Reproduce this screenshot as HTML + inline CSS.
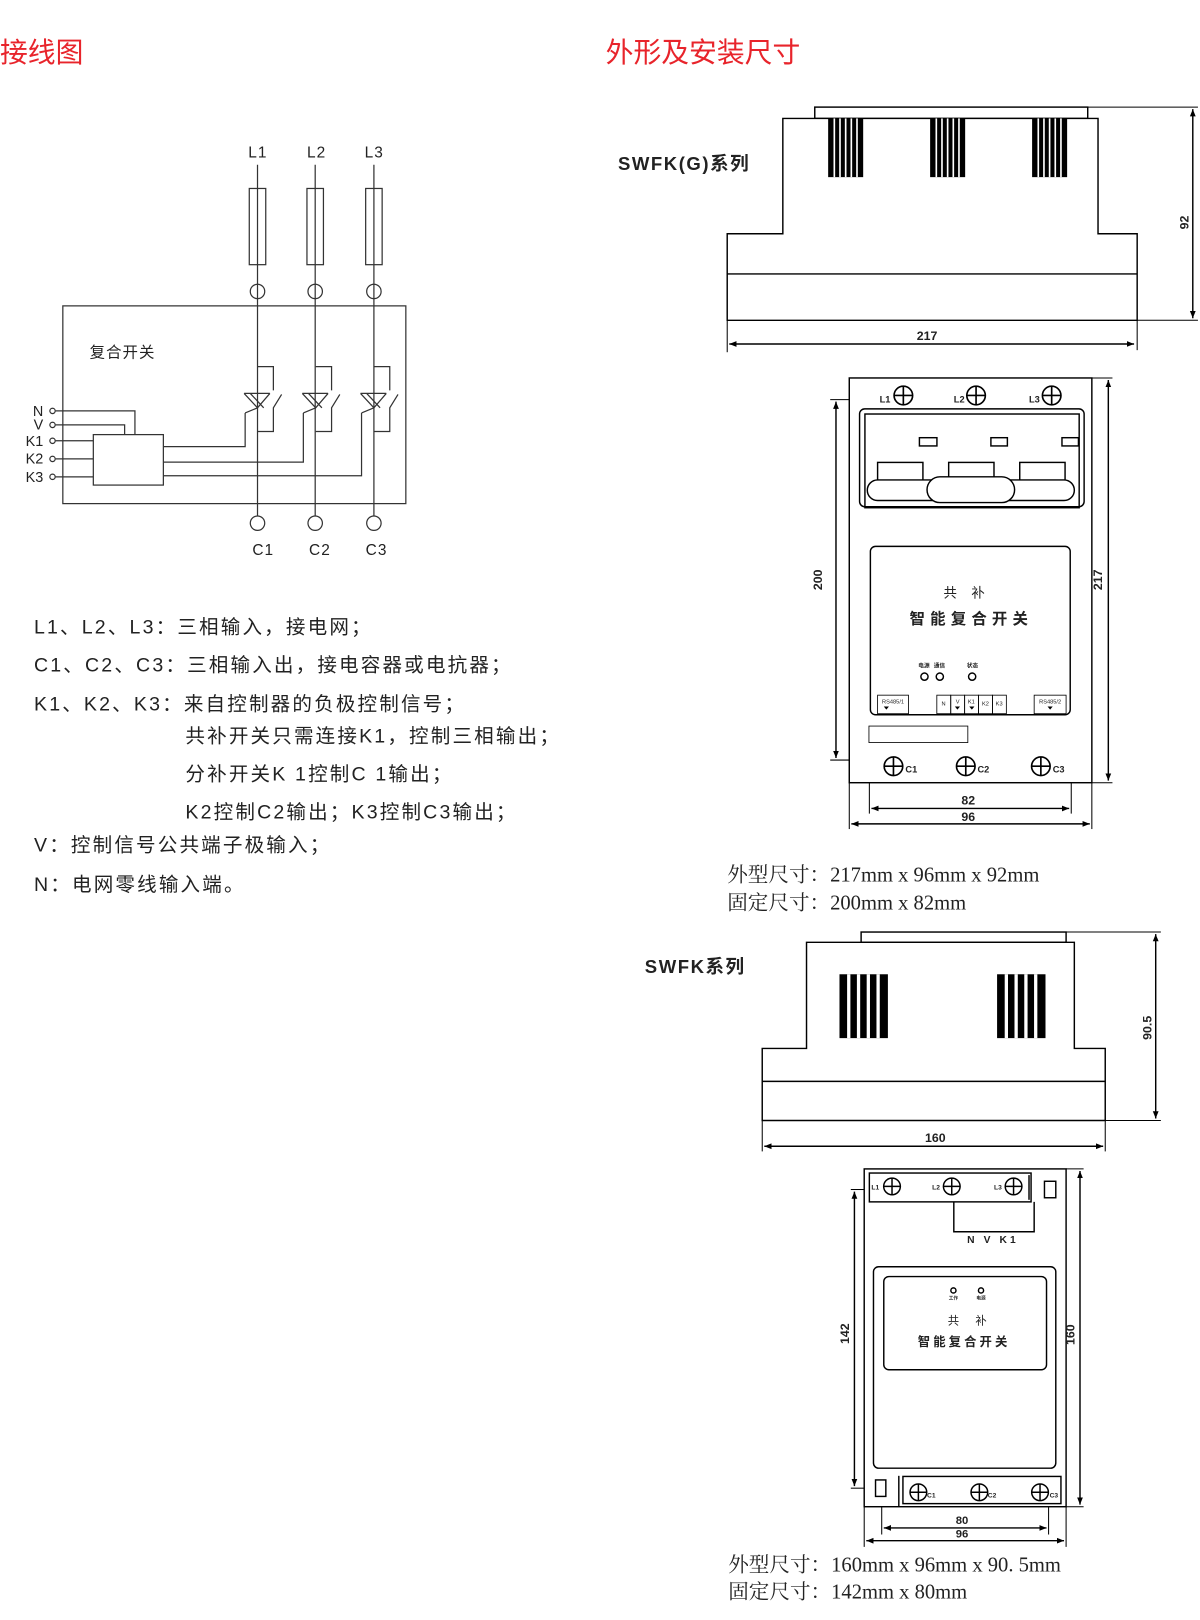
<!DOCTYPE html>
<html><head><meta charset="utf-8">
<style>
html,body{margin:0;padding:0;background:#fff;}
svg{display:block;}
text{font-family:"Liberation Sans","Noto Sans CJK SC",sans-serif;fill:#222;}
.s text{font-family:"Liberation Serif","Noto Serif CJK SC",serif;}
.b{font-weight:bold;}
</style></head><body>
<svg width="1200" height="1620" viewBox="0 0 1165 1573" preserveAspectRatio="none" xmlns="http://www.w3.org/2000/svg">
<defs>
<marker id="a" viewBox="0 0 10 10" refX="10" refY="5" markerWidth="7" markerHeight="7" orient="auto-start-reverse" markerUnits="userSpaceOnUse"><path d="M0,1 L10,5 L0,9 z" fill="#000"/></marker>
<g id="tr">
 <polyline points="250,356 265.4,356 265.4,379" fill="none"/>
 <polyline points="273.4,383 265.4,396 265.4,419 250,419" fill="none"/>
 <polyline points="237,382 250,396 262,382" fill="none"/>
 <line x1="243" y1="382" x2="256" y2="396"/>
 <line x1="237" y1="382" x2="262" y2="382"/>
 <polyline points="250,396 238,401" fill="none"/>
</g>
<g id="scr"><circle r="9" fill="#fff" stroke="#000" stroke-width="1.6"/><line x1="-9" y1="0" x2="9" y2="0" stroke="#000" stroke-width="1.6"/><line x1="0" y1="-9" x2="0" y2="9" stroke="#000" stroke-width="1.6"/></g>
<g id="fin"><rect x="0" y="0" width="34" height="57" fill="#000"/><g stroke="#fff" stroke-width="1.6"><line x1="6" y1="0" x2="6" y2="57"/><line x1="11.5" y1="0" x2="11.5" y2="57"/><line x1="17" y1="0" x2="17" y2="57"/><line x1="22.5" y1="0" x2="22.5" y2="57"/><line x1="28" y1="0" x2="28" y2="57"/></g></g>
<g id="fin2"><rect x="0" y="0" width="47" height="62" fill="#000"/><g stroke="#fff" stroke-width="3.2"><line x1="9" y1="0" x2="9" y2="62"/><line x1="18.5" y1="0" x2="18.5" y2="62"/><line x1="28" y1="0" x2="28" y2="62"/><line x1="37.5" y1="0" x2="37.5" y2="62"/></g></g>
</defs>

<text x="0" y="60" font-size="27" style="fill:#e8242b">接线图</text>
<text x="588" y="60" font-size="27" style="fill:#e8242b">外形及安装尺寸</text>

<g stroke="#333" stroke-width="1.2" fill="none">
 <line x1="250" y1="160" x2="250" y2="501"/>
 <line x1="306" y1="160" x2="306" y2="501"/>
 <line x1="363" y1="160" x2="363" y2="501"/>
 <rect x="242" y="183" width="16" height="74" fill="#fff"/>
 <rect x="298" y="183" width="16" height="74" fill="#fff"/>
 <rect x="355" y="183" width="16" height="74" fill="#fff"/>
 <line x1="250" y1="183" x2="250" y2="257"/><line x1="306" y1="183" x2="306" y2="257"/><line x1="363" y1="183" x2="363" y2="257"/>
 <circle cx="250" cy="283" r="7"/><circle cx="306" cy="283" r="7"/><circle cx="363" cy="283" r="7"/>
 <rect x="61" y="297" width="333" height="192"/>
 <circle cx="250" cy="508" r="7"/><circle cx="306" cy="508" r="7"/><circle cx="363" cy="508" r="7"/>
 <use href="#tr"/>
 <use href="#tr" transform="translate(56.5,0)"/>
 <use href="#tr" transform="translate(113,0)"/>
 <rect x="90.6" y="422" width="68" height="49"/>
 <circle cx="51" cy="399" r="2.6"/><circle cx="51" cy="412.6" r="2.6"/><circle cx="51" cy="428" r="2.6"/><circle cx="51" cy="445.6" r="2.6"/><circle cx="51" cy="463" r="2.6"/>
 <polyline points="54,399 131,399 131,422"/>
 <polyline points="54,412.6 121,412.6 121,422"/>
 <line x1="54" y1="428" x2="90.6" y2="428"/>
 <line x1="54" y1="445.6" x2="90.6" y2="445.6"/>
 <line x1="54" y1="463" x2="90.6" y2="463"/>
 <polyline points="158.6,433.7 238,433.7 238,401"/>
 <polyline points="158.6,448.7 294.5,448.7 294.5,401"/>
 <polyline points="158.6,462 351,462 351,401"/>
</g>
<g font-size="15">
 <text x="241" y="153" letter-spacing="1">L1</text><text x="298" y="153" letter-spacing="1">L2</text><text x="354" y="153" letter-spacing="1">L3</text>
 <text x="245" y="539" letter-spacing="1">C1</text><text x="300" y="539" letter-spacing="1">C2</text><text x="355" y="539" letter-spacing="1">C3</text>
 <text x="87" y="347" letter-spacing="1">复合开关</text>
</g>
<g font-size="14" text-anchor="end">
 <text x="42" y="404">N</text><text x="42" y="417">V</text><text x="42" y="433">K1</text><text x="42" y="450">K2</text><text x="42" y="468">K3</text>
</g>

<g font-size="19" style="fill:#333" letter-spacing="2.1">
 <text x="33" y="615">L1、L2、L3：三相输入，接电网；</text>
 <text x="33" y="652">C1、C2、C3：三相输入出，接电容器或电抗器；</text>
 <text x="33" y="690">K1、K2、K3：来自控制器的负极控制信号；</text>
 <text x="180" y="721">共补开关只需连接K1，控制三相输出；</text>
 <text x="180" y="758">分补开关K 1控制C 1输出；</text>
 <text x="180" y="795">K2控制C2输出；K3控制C3输出；</text>
 <text x="33" y="827">V：控制信号公共端子极输入；</text>
 <text x="33" y="865">N：电网零线输入端。</text>
</g>

<text x="600" y="165" font-size="18" class="b" letter-spacing="1.5">SWFK(G)系列</text>
<g stroke="#000" stroke-width="1.4" fill="none">
 <rect x="791" y="104" width="265" height="11"/>
 <polygon points="760,115 1066,115 1066,227 1104,227 1104,311 706,311 706,227 760,227" fill="#fff"/>
 <line x1="706" y1="266" x2="1104" y2="266"/>
 <line x1="1056" y1="104" x2="1163" y2="104" stroke-width="1"/>
 <line x1="1104" y1="311" x2="1163" y2="311" stroke-width="1"/>
 <line x1="1158" y1="106" x2="1158" y2="309" marker-start="url(#a)" marker-end="url(#a)"/>
 <line x1="706" y1="311" x2="706" y2="342" stroke-width="1"/>
 <line x1="1104" y1="311" x2="1104" y2="340" stroke-width="1"/>
 <line x1="708" y1="334" x2="1101" y2="334" marker-start="url(#a)" marker-end="url(#a)"/>
</g>
<use href="#fin" x="804" y="115"/><use href="#fin" x="903" y="115"/><use href="#fin" x="1002" y="115"/>
<text x="900" y="330" font-size="12" class="b" text-anchor="middle">217</text>
<text transform="translate(1154,216) rotate(-90)" font-size="12" class="b" text-anchor="middle">92</text>

<g stroke="#000" stroke-width="1.4" fill="none">
 <rect x="824.5" y="367" width="235.5" height="393"/>
 <rect x="834.5" y="397" width="218" height="95" rx="5"/>
 <rect x="839.7" y="402" width="208" height="91"/>
 <rect x="892.6" y="425" width="17" height="8"/>
 <rect x="962" y="425" width="16" height="8"/>
 <rect x="1031" y="425" width="16" height="8"/>
 <rect x="852" y="449" width="44" height="18"/>
 <rect x="921" y="449" width="44" height="15"/>
 <rect x="990" y="449" width="44" height="18"/>
 <rect x="842" y="466" width="201" height="20" rx="10" fill="#fff"/>
 <rect x="900" y="463" width="85" height="25" rx="12.5" fill="#fff"/>
 <rect x="845" y="530.5" width="194" height="163.5" rx="5"/>
 <circle cx="897.5" cy="657" r="3.5"/><circle cx="912.4" cy="657" r="3.5"/><circle cx="943.8" cy="657" r="3.5"/>
 <g stroke-width="0.8"><rect x="852" y="675" width="30" height="18"/><rect x="909.5" y="675" width="13.5" height="18"/><rect x="923" y="675" width="13.5" height="18"/><rect x="936.5" y="675" width="13.5" height="18"/><rect x="950" y="675" width="13.5" height="18"/><rect x="963.5" y="675" width="13.5" height="18"/><rect x="1004" y="675" width="31" height="18"/></g>
 <rect x="843.6" y="705" width="96" height="16" stroke-width="0.8"/>
 <line x1="1060" y1="367" x2="1080" y2="367" stroke-width="1"/>
 <line x1="1060" y1="760" x2="1080" y2="760" stroke-width="1"/>
 <line x1="1076" y1="369" x2="1076" y2="758" marker-start="url(#a)" marker-end="url(#a)"/>
 <line x1="806" y1="388" x2="824.5" y2="388" stroke-width="1"/>
 <line x1="806" y1="738" x2="824.5" y2="738" stroke-width="1"/>
 <line x1="811.6" y1="390" x2="811.6" y2="736" marker-start="url(#a)" marker-end="url(#a)"/>
 <line x1="844" y1="760" x2="844" y2="790" stroke-width="1"/>
 <line x1="1040" y1="760" x2="1040" y2="790" stroke-width="1"/>
 <line x1="824.5" y1="760" x2="824.5" y2="805" stroke-width="1"/>
 <line x1="1060" y1="760" x2="1060" y2="805" stroke-width="1"/>
 <line x1="846" y1="785" x2="1038" y2="785" marker-start="url(#a)" marker-end="url(#a)"/>
 <line x1="826.5" y1="800" x2="1058" y2="800" marker-start="url(#a)" marker-end="url(#a)"/>
</g>
<g fill="#000"><path d="M858,686h5l-2.5,3z"/><path d="M927,686h5l-2.5,3z"/><path d="M941,686h5l-2.5,3z"/><path d="M1017,686h5l-2.5,3z"/></g>
<use href="#scr" x="877" y="384"/><use href="#scr" x="947.6" y="384"/><use href="#scr" x="1021" y="384"/>
<use href="#scr" x="867.4" y="744"/><use href="#scr" x="937.6" y="744"/><use href="#scr" x="1010.5" y="744"/>
<g font-size="9" class="b">
 <text x="854" y="391">L1</text><text x="926" y="391">L2</text><text x="999" y="391">L3</text>
 <text x="879" y="750">C1</text><text x="949" y="750">C2</text><text x="1022" y="750">C3</text>
</g>
<text x="943" y="580" font-size="13" text-anchor="middle" letter-spacing="14">共补</text>
<text x="943" y="606" font-size="15" class="b" text-anchor="middle" letter-spacing="5">智能复合开关</text>
<g font-size="5.5" class="b" text-anchor="middle"><text x="897" y="648">电源</text><text x="912" y="648">通信</text><text x="944" y="648">状态</text></g>
<g font-size="5.5" text-anchor="middle"><text x="867" y="683">RS485/1</text><text x="1019.5" y="683">RS485/2</text><text x="916" y="685">N</text><text x="929.7" y="683">V</text><text x="943" y="683">K1</text><text x="956.7" y="685">K2</text><text x="970" y="685">K3</text></g>
<text x="798" y="563" transform="rotate(-90 798 563)" font-size="12" class="b" text-anchor="middle">200</text>
<text x="1070" y="563" transform="rotate(-90 1070 563)" font-size="12" class="b" text-anchor="middle">217</text>
<text x="940" y="781" font-size="12" class="b" text-anchor="middle">82</text>
<text x="940" y="797" font-size="12" class="b" text-anchor="middle">96</text>

<g font-size="20" class="s">
 <text x="706" y="856">外型尺寸：217mm x 96mm x 92mm</text>
 <text x="706" y="883">固定尺寸：200mm x 82mm</text>
</g>

<text x="626" y="945" font-size="18" class="b" letter-spacing="1.5">SWFK系列</text>
<g stroke="#000" stroke-width="1.4" fill="none">
 <rect x="836" y="905" width="199" height="10"/>
 <polygon points="783,915 1043,915 1043,1018 1073,1018 1073,1088 740,1088 740,1018 783,1018" fill="#fff"/>
 <line x1="740" y1="1050" x2="1073" y2="1050"/>
 <line x1="1035" y1="905" x2="1127" y2="905" stroke-width="1"/>
 <line x1="1073" y1="1088" x2="1127" y2="1088" stroke-width="1"/>
 <line x1="1122" y1="907" x2="1122" y2="1086" marker-start="url(#a)" marker-end="url(#a)"/>
 <line x1="740" y1="1088" x2="740" y2="1118" stroke-width="1"/>
 <line x1="1073" y1="1088" x2="1073" y2="1118" stroke-width="1"/>
 <line x1="742" y1="1113" x2="1071" y2="1113" marker-start="url(#a)" marker-end="url(#a)"/>
</g>
<use href="#fin2" x="815" y="946"/><use href="#fin2" x="968" y="946"/>
<text x="908" y="1109" font-size="12" class="b" text-anchor="middle">160</text>
<text transform="translate(1118,998) rotate(-90)" font-size="12" class="b" text-anchor="middle">90.5</text>

<g stroke="#000" stroke-width="1.4" fill="none">
 <rect x="839" y="1135" width="196" height="328"/>
 <rect x="844" y="1139" width="157" height="28"/>
 <line x1="999" y1="1141" x2="999" y2="1165"/>
 <rect x="1014" y="1147" width="11" height="16"/>
 <polyline points="926,1167 926,1196 1004,1196 1004,1167"/>
 <rect x="848" y="1230" width="177" height="195.6" rx="5"/>
 <rect x="858" y="1239.5" width="158" height="90.5" rx="5"/>
 <circle cx="925.6" cy="1253" r="2.5"/><circle cx="952.4" cy="1253" r="2.5"/>
 <rect x="850" y="1437" width="10" height="16"/>
 <line x1="872.6" y1="1433" x2="872.6" y2="1463"/>
 <rect x="876.6" y="1433.6" width="153.4" height="26.4"/>
 <line x1="1035" y1="1135" x2="1052" y2="1135" stroke-width="1"/>
 <line x1="1035" y1="1463" x2="1052" y2="1463" stroke-width="1"/>
 <line x1="1048.5" y1="1137" x2="1048.5" y2="1461" marker-start="url(#a)" marker-end="url(#a)"/>
 <polyline points="826,1155 839,1155" stroke-width="1"/>
 <polyline points="826,1445 839,1445" stroke-width="1"/>
 <line x1="829.5" y1="1157" x2="829.5" y2="1443" marker-start="url(#a)" marker-end="url(#a)"/>
 <line x1="856" y1="1463" x2="856" y2="1490" stroke-width="1"/>
 <line x1="1018" y1="1463" x2="1018" y2="1490" stroke-width="1"/>
 <line x1="839" y1="1463" x2="839" y2="1502" stroke-width="1"/>
 <line x1="1035" y1="1463" x2="1035" y2="1502" stroke-width="1"/>
 <line x1="858" y1="1483.6" x2="1016" y2="1483.6" marker-start="url(#a)" marker-end="url(#a)"/>
 <line x1="841" y1="1496" x2="1033" y2="1496" marker-start="url(#a)" marker-end="url(#a)"/>
</g>
<g transform="translate(866,1152) scale(0.9)"><use href="#scr"/></g>
<g transform="translate(924,1152) scale(0.9)"><use href="#scr"/></g>
<g transform="translate(984,1152) scale(0.9)"><use href="#scr"/></g>
<g transform="translate(891.6,1449) scale(0.9)"><use href="#scr"/></g>
<g transform="translate(950.8,1449) scale(0.9)"><use href="#scr"/></g>
<g transform="translate(1009.7,1449) scale(0.9)"><use href="#scr"/></g>
<g font-size="6.5" class="b">
 <text x="846" y="1155">L1</text><text x="905" y="1155">L2</text><text x="965" y="1155">L3</text>
 <text x="900" y="1454">C1</text><text x="959" y="1454">C2</text><text x="1019" y="1454">C3</text>
</g>
<text x="964" y="1207" font-size="10" class="b" text-anchor="middle" letter-spacing="3">N V K1</text>
<g font-size="4.5" class="b" text-anchor="middle"><text x="925.6" y="1262">工作</text><text x="952.4" y="1262">电源</text></g>
<text x="925.6" y="1286" font-size="11" text-anchor="middle">共</text>
<text x="952.4" y="1286" font-size="11" text-anchor="middle">补</text>
<text x="936" y="1307" font-size="12" class="b" text-anchor="middle" letter-spacing="3">智能复合开关</text>
<text x="824" y="1295" transform="rotate(-90 824 1295)" font-size="12" class="b" text-anchor="middle">142</text>
<text x="1043" y="1296" transform="rotate(-90 1043 1296)" font-size="12" class="b" text-anchor="middle">160</text>
<text x="934" y="1480" font-size="11" class="b" text-anchor="middle">80</text>
<text x="934" y="1493" font-size="11" class="b" text-anchor="middle">96</text>

<g font-size="20" class="s">
 <text x="707" y="1526">外型尺寸：160mm x 96mm x 90. 5mm</text>
 <text x="707" y="1552">固定尺寸：142mm x 80mm</text>
</g>
</svg>
</body></html>
